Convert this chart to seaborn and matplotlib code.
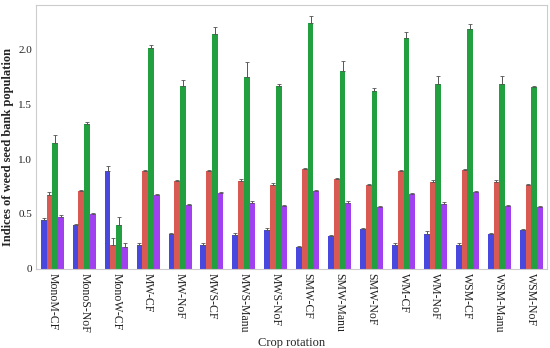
import numpy as np
import pandas as pd
import matplotlib
matplotlib.use("Agg")
import matplotlib.pyplot as plt
import seaborn as sns

rotations = ["MonoM-CF", "MonoS-NoF", "MonoW-CF", "MW-CF", "MW-NoF", "MWS-CF",
             "MWS-Manu", "MWS-NoF", "SMW-CF", "SMW-Manu", "SMW-NoF", "WM-CF",
             "WM-NoF", "WSM-CF", "WSM-Manu", "WSM-NoF"]
series = ["S1", "S2", "S3", "S4"]

s1 = [0.44, 0.40, 0.89, 0.22, 0.32, 0.22, 0.31, 0.35, 0.20, 0.30, 0.36, 0.22, 0.32, 0.22, 0.32, 0.35]
s2 = [0.67, 0.71, 0.22, 0.89, 0.80, 0.89, 0.80, 0.76, 0.91, 0.82, 0.76, 0.89, 0.79, 0.90, 0.79, 0.76]
s3 = [1.15, 1.32, 0.40, 2.02, 1.67, 2.14, 1.75, 1.67, 2.24, 1.81, 1.62, 2.11, 1.69, 2.19, 1.69, 1.66]
s4 = [0.47, 0.50, 0.20, 0.67, 0.58, 0.69, 0.60, 0.57, 0.71, 0.60, 0.56, 0.68, 0.59, 0.70, 0.57, 0.565]

e1 = [0.02, 0.01, 0.05, 0.01, 0.01, 0.01, 0.02, 0.02, 0.01, 0.01, 0.01, 0.01, 0.02, 0.01, 0.01, 0.01]
e2 = [0.03, 0.01, 0.06, 0.01, 0.01, 0.01, 0.02, 0.02, 0.01, 0.01, 0.01, 0.01, 0.02, 0.01, 0.02, 0.01]
e3 = [0.07, 0.02, 0.07, 0.02, 0.05, 0.07, 0.14, 0.02, 0.07, 0.09, 0.03, 0.055, 0.07, 0.045, 0.07, 0.01]
e4 = [0.02, 0.01, 0.03, 0.01, 0.01, 0.01, 0.02, 0.01, 0.01, 0.02, 0.01, 0.01, 0.02, 0.01, 0.01, 0.01]

colors = ["#4848de", "#d85a52", "#22a040", "#a040ee"]

vals = [s1, s2, s3, s4]
errs = [e1, e2, e3, e4]
df = pd.DataFrame({
    "rotation": np.tile(rotations, 4),
    "series": np.repeat(series, len(rotations)),
    "value": np.concatenate(vals),
    "err": np.concatenate(errs),
})

sns.set_style("white")
plt.rcParams["font.family"] = ["Liberation Serif", "DejaVu Serif"]

fig = plt.figure(figsize=(5.5, 3.48), dpi=100)
ax = fig.add_axes([0.066, 0.228, 0.929, 0.758])

sns.barplot(data=df, x="rotation", y="value", hue="series", order=rotations,
            hue_order=series, palette=colors, width=0.72, errorbar=None,
            saturation=1, legend=False, linewidth=0, ax=ax)

# error bars at bar centers taken from the drawn patches
for si, s in enumerate(series):
    cont = ax.containers[si]
    sub = df[df.series == s].set_index("rotation").loc[rotations]
    xs = [p.get_x() + p.get_width() / 2 for p in cont.patches]
    hs = [p.get_height() for p in cont.patches]
    ax.errorbar(xs, hs, yerr=[np.zeros(len(hs)), sub["err"].values], fmt="none",
                ecolor="#555555", elinewidth=0.7, capsize=1.2, capthick=0.6)

ax.set_ylim(0, 2.41)
ax.set_xlim(-0.5, len(rotations) - 0.5)
ax.set_yticks([0, 0.5, 1.0, 1.5, 2.0])
ax.set_yticklabels(["0", "0.5", "1.0", "1.5", "2.0"])
ax.tick_params(axis="x", length=0, labelsize=8.5, colors="#222222", pad=3)
ax.tick_params(axis="y", length=0, labelsize=8, colors="#222222", pad=3)
plt.setp(ax.get_xticklabels(), rotation=270, va="top", ha="center")
ax.set_xlabel("Crop rotation", fontsize=9, labelpad=3)
ax.set_ylabel("Indices of weed seed bank population", fontsize=9, fontweight="bold")
ax.yaxis.set_label_coords(-0.044, 0.46)
for sp in ax.spines.values():
    sp.set_color("#cccccc")
    sp.set_linewidth(0.8)

fig.savefig("out.png", dpi=100)
